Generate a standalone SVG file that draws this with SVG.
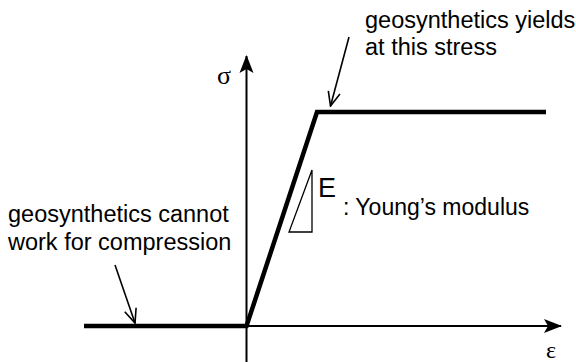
<svg xmlns="http://www.w3.org/2000/svg" width="576" height="362" viewBox="0 0 576 362">
<style>
.t{font-family:"Liberation Sans",Arial,sans-serif;fill:#000}
.g{font-family:"Liberation Serif","Times New Roman",serif;fill:#000}
.ax{stroke:#000;stroke-width:2;fill:none}
.cur{stroke:#000;stroke-width:4.5;fill:none;stroke-linejoin:miter}
.ptr{stroke:#000;stroke-width:1.6;fill:none}
</style>
<defs>
<marker id="ah" markerWidth="18" markerHeight="16" viewBox="0 0 18 16" refX="17" refY="8" orient="auto" markerUnits="userSpaceOnUse">
<path d="M0,1 L18,8 L0,15 L4,8 Z" fill="#000"/>
</marker>
<marker id="open" markerWidth="16" markerHeight="14" viewBox="0 0 16 14" refX="15" refY="7" orient="auto" markerUnits="userSpaceOnUse">
<path d="M1,1 L15,7 L1,13" fill="none" stroke="#000" stroke-width="1.6"/>
</marker>
</defs>
<g id="axes">
<line class="ax" x1="246.5" y1="362" x2="246.5" y2="56" marker-end="url(#ah)"/>
<line class="ax" x1="85" y1="326" x2="561" y2="326" marker-end="url(#ah)"/>
</g>
<g id="curve">
<polyline class="cur" points="84,326 246.5,326 317,112 546,112"/>
</g>
<g id="slope-triangle">
<polygon points="312,170 312,232 289,232" fill="none" stroke="#000" stroke-width="1.3"/>
</g>
<g id="connectors">
<line class="ptr" x1="349" y1="37" x2="330.5" y2="106" marker-end="url(#open)"/>
<line class="ptr" x1="115" y1="265" x2="135" y2="323" marker-end="url(#open)"/>
</g>
<g id="labels">
<text class="g" x="217" y="84" font-size="26">σ</text>
<text class="g" x="546" y="358" font-size="24">ε</text>
<text class="t" x="318" y="197" font-size="27">E</text>
<text class="t" x="343" y="215" font-size="23">: Young’s modulus</text>
</g>
<g id="note-yield">
<text class="t" x="365" y="28" font-size="23.5">geosynthetics yields</text>
<text class="t" x="365" y="55" font-size="23.5">at this stress</text>
</g>
<g id="note-compression">
<text class="t" x="8" y="222" font-size="23.5">geosynthetics cannot</text>
<text class="t" x="8" y="250" font-size="23.5">work for compression</text>
</g>
</svg>
